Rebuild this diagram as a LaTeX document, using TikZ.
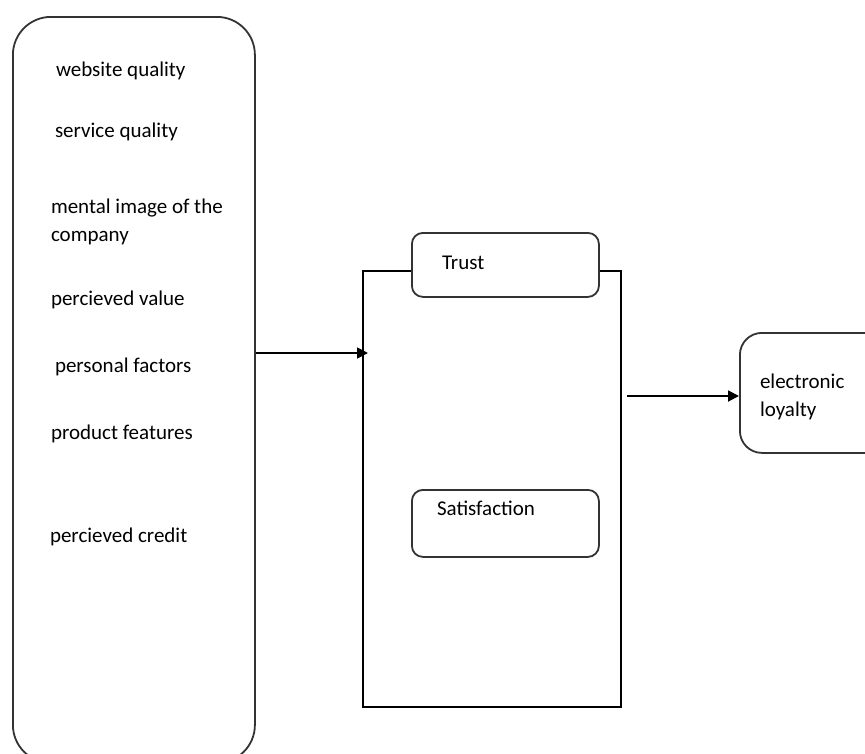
\documentclass[tikz,border=0pt]{standalone}
\usepackage{fontspec}
\setmainfont{Carlito}
\usetikzlibrary{arrows.meta}
\begin{document}
\begin{tikzpicture}[x=1pt,y=-1pt,
  lbl/.style={inner sep=0pt,outer sep=0pt,anchor=base west,align=left,
    font=\fontsize{21}{28}\selectfont,text=black},
  rbox/.style={draw=black!80,line width=1.8pt,fill=white,anchor=north west,inner sep=0pt},
  conn/.style={draw=black,line width=1.8pt,-{Triangle[length=11pt,width=11pt]}}]
\useasboundingbox (0,0) rectangle (865,753);
\clip (0,0) rectangle (865,753);
% left factor box
\node[rbox,rounded corners=38pt,minimum width=242pt,minimum height=746pt] (factors) at (12,16) {};
\node[lbl] (f1) at (56,76) {website quality};
\node[lbl] (f2) at (55,137) {service quality};
\node[lbl] (f3) at (51,241) {mental image of the\\company};
\node[lbl] (f4) at (51,305) {percieved value};
\node[lbl] (f5) at (55,372) {personal factors};
\node[lbl] (f6) at (51,439) {product features};
\node[lbl] (f7) at (50,542) {percieved credit};
% middle container
\node[draw=black,line width=1.8pt,anchor=north west,inner sep=0pt,minimum width=258pt,minimum height=436pt] (mid) at (362,270) {};
\node[rbox,rounded corners=11pt,minimum width=187pt,minimum height=64pt] (trust) at (411,232) {};
\node[lbl] (trustt) at (442,269) {Trust};
\node[rbox,rounded corners=11pt,minimum width=187pt,minimum height=67pt] (satis) at (411,489) {};
\node[lbl] (satist) at (437,515) {Satisfaction};
% loyalty box
\node[rbox,rounded corners=22pt,minimum width=160pt,minimum height=120pt] (loyal) at (739,332) {};
\node[lbl] (loyalt) at (760,416) {electronic\\loyalty};
% connectors
\coordinate (y1) at (0,353);
\coordinate (y2) at (0,396);
\coordinate (s2) at (627,396);
\draw[conn] (factors.east |- y1) -- ([xshift=6pt]mid.west |- y1);
\draw[conn] (s2) -- (loyal.west |- y2);
\end{tikzpicture}
\end{document}
